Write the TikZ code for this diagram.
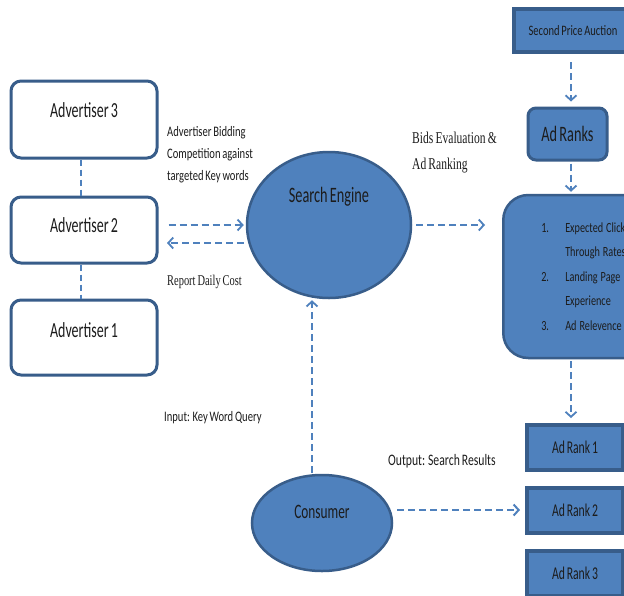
\documentclass[tikz,border=0pt]{standalone}
\usepackage{fontspec}
\setmainfont{Carlito}
\newfontfamily\calb[FakeStretch=0.65,WordSpace=0.7]{Carlito}
\newfontfamily\cals[FakeStretch=0.73,WordSpace=0.75]{Carlito}
\newfontfamily\tms[FakeStretch=0.7,WordSpace=0.75]{Liberation Serif}
\usetikzlibrary{arrows.meta,shapes.geometric}
\definecolor{fillblue}{RGB}{79,129,189}
\definecolor{edgeblue}{RGB}{56,93,138}
\definecolor{txt}{RGB}{28,28,28}
\begin{document}
\begin{tikzpicture}[x=1pt,y=-1pt,
  advbox/.style={draw=edgeblue, line width=3pt, fill=white, rounded corners=10pt,
     minimum width=146pt, inner sep=0pt},
  advlbl/.style={text=txt, font=\calb\fontsize{21.5}{24}\selectfont, inner sep=0pt},
  bluebox/.style={draw=edgeblue, line width=4pt, fill=fillblue, inner sep=0pt, text=txt},
  blueell/.style={ellipse, draw=edgeblue, line width=2.5pt, fill=fillblue, inner sep=0pt},
  biglbl/.style={text=txt, font=\calb\fontsize{22}{24}\selectfont, inner sep=0pt},
  smalltxt/.style={text=txt, font=\cals\fontsize{14.5}{22}\selectfont, inner sep=0pt, align=left},
  serif/.style={text=txt, inner sep=0pt, align=left},
  conn/.style={draw=fillblue, line width=1.8pt, dash pattern=on 7pt off 4pt},
  arr/.style={conn, -{Straight Barb[length=5pt,width=11pt]}},
  thinconn/.style={draw=fillblue, line width=1.3pt, dash pattern=on 6pt off 4pt}
]
\useasboundingbox (0,0) rectangle (624,595);
\fill[white] (0,0) rectangle (624,595);

% advertisers
\node[advbox, minimum height=77pt, label={[advlbl, yshift=9.5pt]center:Advertiser 3}] (adv3) at (84,119.5) {};
\node[advbox, minimum height=66pt, label={[advlbl, yshift=5pt]center:Advertiser 2}] (adv2) at (84,230) {};
\node[advbox, minimum height=75pt, label={[advlbl, yshift=7.5pt]center:Advertiser 1}] (adv1) at (84,337.5) {};

% ellipses
\node[blueell, minimum width=164pt, minimum height=146pt,
      label={[biglbl, yshift=28pt]center:Search Engine}] (se) at (329,225) {};
\node[blueell, minimum width=140pt, minimum height=96pt,
      label={[biglbl, font=\calb\fontsize{20.5}{22}\selectfont, yshift=11pt]center:Consumer}] (cons) at (322,523) {};

% right column
\node[bluebox, minimum width=118pt, minimum height=43pt,
      font=\cals\fontsize{14.4}{16}\selectfont] (spa) at (573,30.5) {\raisebox{-2pt}{Second Price Auction}};
\node[bluebox, line width=3pt, rounded corners=8pt, minimum width=79pt, minimum height=52pt,
      font=\calb\fontsize{22}{24}\selectfont] (adranks) at (567.5,134) {\raisebox{-2.5pt}{Ad Ranks}};
\node[bluebox, line width=2.5pt, rounded corners=25pt, anchor=west, minimum height=163pt,
      inner xsep=38pt, text width=92pt, align=left,
      font=\cals\fontsize{14}{24.5}\selectfont] (list) at (502,276.5)
  {\spaceskip=3pt\relax
   \makebox[24pt][l]{1.}Expected Click\\\hspace*{24pt}Through Rates\\
   \makebox[24pt][l]{2.}Landing Page\\\hspace*{24pt}Experience\\
   \makebox[24pt][l]{3.}Ad Relevence};
\node[bluebox, minimum width=96pt, minimum height=45pt,
      font=\calb\fontsize{18}{20}\selectfont] (ar1) at (575,447.5) {Ad Rank 1};
\node[bluebox, minimum width=96pt, minimum height=45pt,
      font=\calb\fontsize{18}{20}\selectfont] (ar2) at (575,510) {Ad Rank 2};
\node[bluebox, minimum width=96pt, minimum height=45pt,
      font=\calb\fontsize{18}{20}\selectfont] (ar3) at (575,573.5) {\raisebox{-1.5pt}{Ad Rank 3}};

% texts
\node[smalltxt, anchor=west] (bid) at (167,155)
  {Advertiser Bidding\\Competition against\\targeted Key words};
\node[serif, anchor=base west, font=\tms\fontsize{14.9}{17}\selectfont] (cost) at (167,285) {Report Daily Cost};
\node[serif, anchor=west, font=\tms\fontsize{16.5}{26}\selectfont] (bids) at (412,153)
  {Bids Evaluation \&\\Ad Ranking};
\node[smalltxt, anchor=west] (inp) at (164,418) {Input: Key Word Query};
\node[smalltxt, anchor=west, font=\cals\fontsize{16}{18}\selectfont] (outp) at (388,461) {Output: Search Results};

% connectors
\coordinate (colx) at (571,0);
\coordinate (vx) at (312,0);
\coordinate (r1) at (167,243);
\draw[thinconn] ([xshift=-3pt]adv3.south) -- ([xshift=-3pt]adv2.north);
\draw[thinconn] ([xshift=-3pt]adv2.south) -- ([xshift=-3pt]adv1.north);
\draw[arr, shorten <=10pt, shorten >=2pt] (adv2.east |- se.west) -- (se.west);
\draw[arr, shorten <=2pt] ([yshift=-18pt]se.west) -- (r1);
\draw[arr, shorten <=4pt, shorten >=17pt] (se.east) -- (se.east -| list.west);
\draw[arr, shorten <=8pt, shorten >=5pt] (spa.south -| colx) -- (adranks.north -| colx);
\draw[arr, shorten <=2pt, shorten >=2pt] (adranks.south -| colx) -- (list.north -| colx);
\draw[arr, shorten <=2pt, shorten >=5pt] (list.south -| colx) -- (ar1.north -| colx);
\draw[arr, shorten <=1pt, shorten >=1pt] (cons.north -| vx) -- (se.south -| vx);
\draw[arr, line width=2pt, shorten <=4pt, shorten >=5pt] (ar2.west -| cons.east) -- (ar2.west);
\end{tikzpicture}
\end{document}
